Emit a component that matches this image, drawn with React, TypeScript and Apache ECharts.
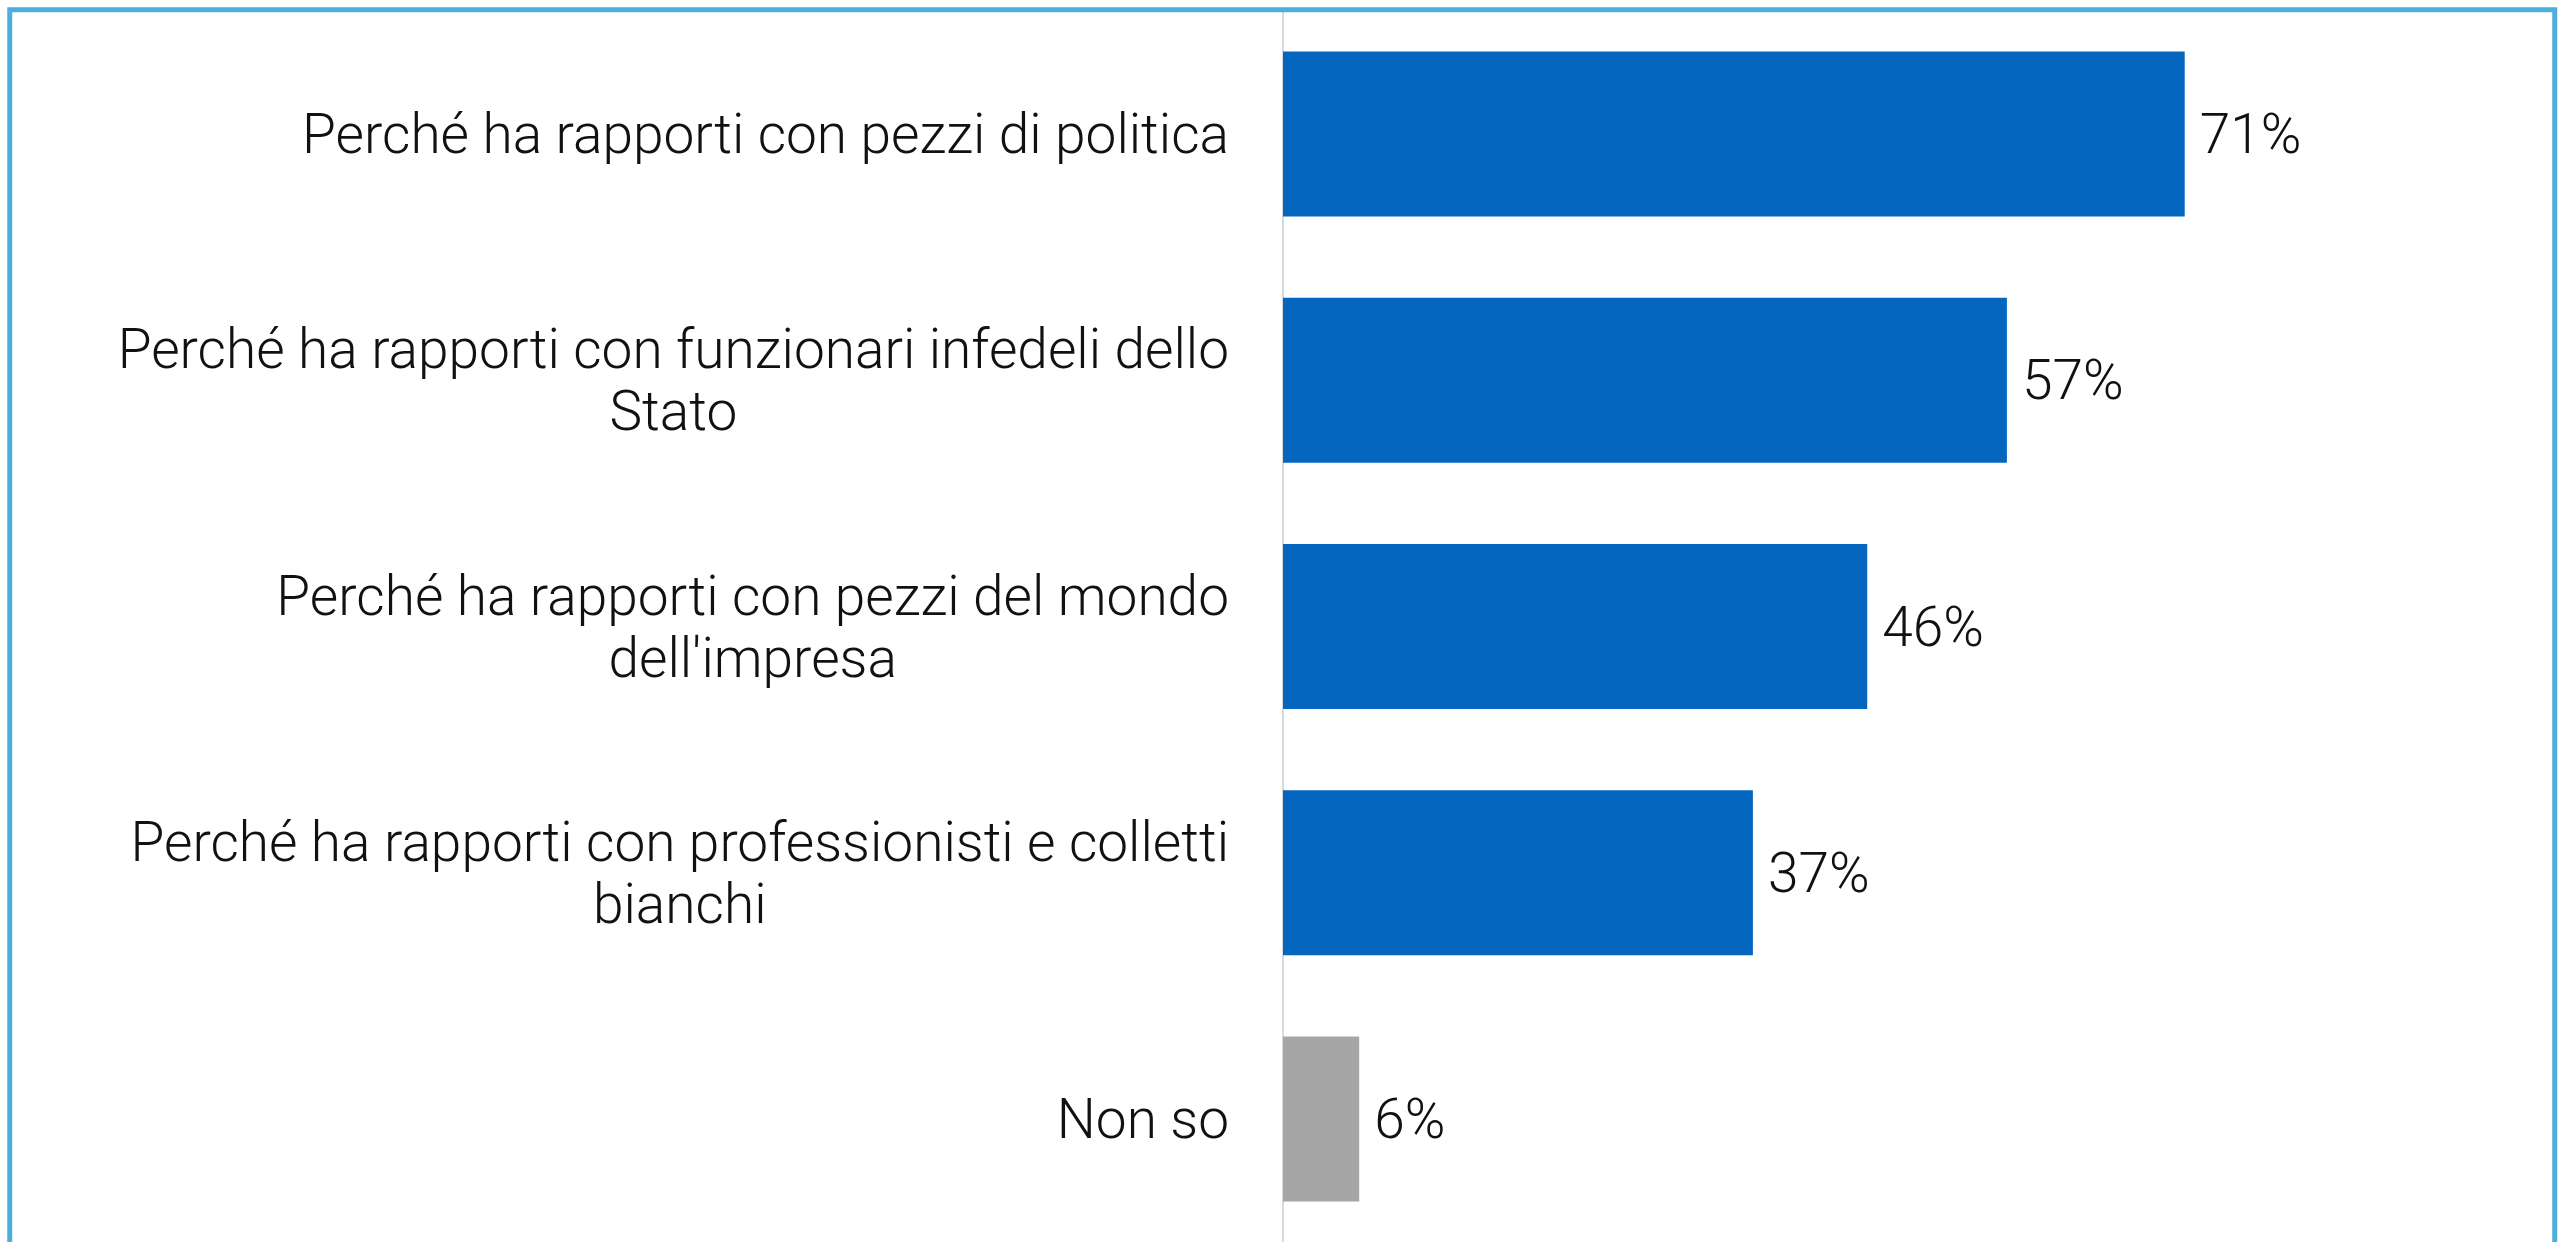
import React, { useEffect, useRef } from "react";
import * as echarts from "echarts";

const categories: string[] = [
  "Perché ha rapporti con pezzi di politica",
  "Perché ha rapporti con funzionari infedeli dello\nStato",
  "Perché ha rapporti con pezzi del mondo\ndell'impresa",
  "Perché ha rapporti con professionisti e colletti\nbianchi",
  "Non so",
];
const values: number[] = [71, 57, 46, 37, 6];
const barColors: string[] = ["#0566C0", "#0566C0", "#0566C0", "#0566C0", "#A6A6A6"];

const FONT = "Roboto";
const FS = 55;

export default function App() {
  const ref = useRef<HTMLDivElement>(null);
  useEffect(() => {
    if (!ref.current) return;
    const chart = echarts.init(ref.current, undefined, { renderer: "svg" });
    chart.setOption({
      animation: false,
      backgroundColor: "#ffffff",
      grid: { left: 1283, top: 11, width: 1270, height: 1235, containLabel: false },
      xAxis: { type: "value", min: 0, max: 100, show: false },
      yAxis: {
        type: "category",
        inverse: true,
        data: categories,
        axisLine: { show: true, lineStyle: { color: "#D9D9D9", width: 2 } },
        axisTick: { show: false },
        splitLine: { show: false },
        axisLabel: {
          margin: 54,
          align: "right",
          formatter: (v: string) =>
            v
              .split("\n")
              .map((l) => `{c|${l}}`)
              .join("\n"),
          rich: {
            c: {
              align: "center",
              fontFamily: FONT,
              fontWeight: 300,
              fontSize: FS,
              lineHeight: 62,
              color: "#111111",
            },
          },
        },
      },
      series: [
        {
          type: "bar",
          data: values.map((v, i) => ({ value: v, itemStyle: { color: barColors[i] } })),
          barWidth: 165,
          label: {
            show: true,
            position: "right",
            distance: 15,
            formatter: "{c}%",
            fontFamily: FONT,
            fontWeight: 300,
            fontSize: FS,
            color: "#111111",
          },
        },
      ],
      graphic: [
        {
          type: "rect",
          shape: { x: 9.75, y: 9.75, width: 2545, height: 1320 },
          style: { fill: "none", stroke: "#4BAEDC", lineWidth: 5 },
          z: 100,
        },
      ],
    });
    return () => chart.dispose();
  }, []);
  return (
    <div
      ref={ref}
      style={{ position: "fixed", left: 0, top: 0, width: 2566, height: 1242, background: "#fff" }}
    />
  );
}
